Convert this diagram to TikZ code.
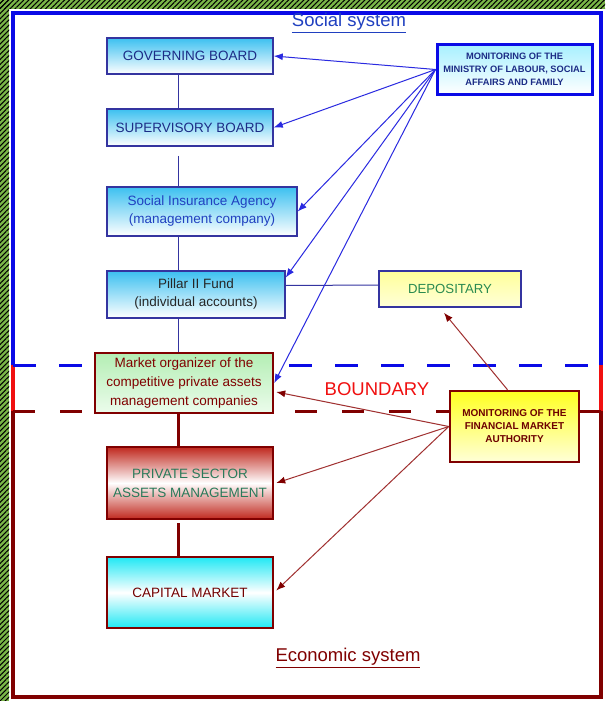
\documentclass[tikz,border=0pt]{standalone}
\usepackage{fontspec}
\setmainfont{Liberation Sans}
\usetikzlibrary{arrows.meta,calc,patterns.meta}
\definecolor{fblue}{HTML}{0A0AE6}
\definecolor{dred}{HTML}{800000}
\definecolor{bred}{HTML}{F01010}
\definecolor{navy}{HTML}{1C2C86}
\definecolor{midblue}{HTML}{2040C0}
\definecolor{boxblue}{HTML}{3434A0}
\definecolor{hgreen}{HTML}{7AB648}
\definecolor{skytop}{HTML}{3CC0F0}
\definecolor{cyantop}{HTML}{20E8F4}
\definecolor{redtop}{HTML}{C0281E}
\definecolor{greentop}{HTML}{B4EEB4}
\definecolor{greenbot}{HTML}{ECFCEC}
\definecolor{yelltop}{HTML}{FFFF20}
\definecolor{yellbot}{HTML}{FFFFD8}
\definecolor{paleyell}{HTML}{FFFF9A}
\definecolor{palecyan}{HTML}{A8F0FF}
\definecolor{tgreen}{HTML}{2A7A5A}
\definecolor{dgreen}{HTML}{2A8A50}
\definecolor{arrblue}{HTML}{2A2AE0}
\definecolor{arrred}{HTML}{A03030}
\tikzset{
  bluebox/.style={draw=boxblue, line width=1.5pt, inner sep=0pt, align=center,
    top color=skytop, bottom color=white, font=\fontsize{13.5}{18}\selectfont},
  redbox/.style={draw=dred, line width=2.5pt, inner sep=0pt, align=center,
    font=\fontsize{13.5}{19}\selectfont},
  smallbox/.style={inner sep=0pt, align=center, font=\bfseries\fontsize{9.3}{13}\selectfont},
  bline/.style={boxblue, line width=1pt},
  rline/.style={dred, line width=3pt},
  barrow/.style={arrblue, line width=1pt, -{Latex[length=9pt,width=7pt]}},
  rarrow/.style={arrred, line width=1pt, -{Latex[length=9pt,width=7pt,color=dred]}},
}
\begin{document}
\begin{tikzpicture}[x=1pt,y=-1pt]
\useasboundingbox (0,0) rectangle (605,701);
\fill[white] (0,0) rectangle (605,701);
% hatched border
\fill[hgreen] (0,0) rectangle (605,9);
\fill[hgreen] (0,0) rectangle (9,701);
\fill[pattern={Lines[angle=45,distance=3.6pt,line width=1.05pt]},pattern color=black] (0,0) rectangle (605,9);
\fill[pattern={Lines[angle=45,distance=3.6pt,line width=1.05pt]},pattern color=black] (0,0) rectangle (9,701);
% frames
\draw[fblue, line width=4pt] (13,365) -- (13,13) -- (601,13) -- (601,365);
\draw[bred, line width=4pt] (13,365) -- (13,411) (601,365) -- (601,411);
\draw[dred, line width=4pt] (13,411) -- (13,697) -- (601,697) -- (601,411);
\draw[fblue, line width=3pt, dash pattern=on 23pt off 23pt] (13,365) -- (601,365);
\draw[dred, line width=3pt, dash pattern=on 22pt off 25pt] (13,411) -- (601,411);

\node[text=midblue, font=\fontsize{18.5}{20}\selectfont] (soc) at (349,23) {\underline{Social system}};
\node[text=dred, font=\fontsize{18.5}{20}\selectfont] (eco) at (348,658) {\underline{Economic system}};
\node[text=bred, font=\fontsize{18.5}{20}\selectfont] (bnd) at (377,389) {BOUNDARY};

\coordinate (sp) at (178,0);

% left column
\node[bluebox, text=navy, minimum width=166pt, minimum height=36pt] (gb) at (190,56) {GOVERNING BOARD};
\node[bluebox, text=navy, minimum width=166pt, minimum height=37pt] (sb) at (190,127.5) {SUPERVISORY BOARD};
\node[bluebox, text=midblue, minimum width=190pt, minimum height=49pt] (sia) at (202,211.5) {Social Insurance Agency\\(management company)};
\node[bluebox, text=black!85, minimum width=178pt, minimum height=47pt] (pf) at (196,294.5) {Pillar II Fund\\(individual accounts)};
\node[redbox, text=dred, top color=greentop, bottom color=greenbot, minimum width=178pt, minimum height=60pt] (mo) at (184,383) {Market organizer of the\\competitive private assets\\management companies};
\node[redbox, text=tgreen, top color=redtop, bottom color=redtop, middle color=white, minimum width=166pt, minimum height=72pt] (ps) at (190,483) {PRIVATE SECTOR\\ASSETS MANAGEMENT};
\node[redbox, text=dred!90!black, top color=cyantop, bottom color=cyantop, middle color=white, minimum width=166pt, minimum height=71pt] (cm) at (190,592.5) {CAPITAL MARKET};

% right column
\node[draw=boxblue, line width=1.5pt, inner sep=0pt, top color=paleyell, bottom color=yellbot, text=dgreen, font=\fontsize{13.2}{16}\selectfont, minimum width=142pt, minimum height=36pt] (dep) at (450,289) {DEPOSITARY};
\node[smallbox, draw=fblue, line width=3pt, top color=palecyan, bottom color=white, text=navy, minimum width=155pt, minimum height=49pt] (ml) at (514.5,69.5) {MONITORING OF THE\\MINISTRY OF LABOUR, SOCIAL\\AFFAIRS AND FAMILY};
\node[smallbox, draw=dred, line width=2.5pt, top color=yelltop, bottom color=yellbot, text=dred!85!black, font=\bfseries\fontsize{10}{13}\selectfont, minimum width=129pt, minimum height=71pt] (fma) at (514.5,426.5) {MONITORING OF THE\\FINANCIAL MARKET\\AUTHORITY};

% spine connectors
\draw[bline] (gb.south -| sp) -- (sb.north -| sp);
\draw[bline] ($(sb.south -| sp)+(0,9)$) -- (sia.north -| sp);
\draw[bline] (sia.south -| sp) -- (pf.north -| sp);
\draw[bline] (pf.south -| sp) -- (mo.north -| sp);
\draw[rline] (mo.south -| sp) -- (ps.north -| sp);
\draw[rline] ($(ps.south -| sp)+(0,3)$) -- (cm.north -| sp);
\draw[boxblue, line width=1pt] ($(pf.east)+(0,-9)$) -- ($(dep.west)+(0,-4)$);
\draw[dred, line width=3pt] (fma.east |- 0,411) -- (601,411);

% ministry arrows
\draw[barrow] (ml.west) -- (gb.east);
\draw[barrow] (ml.west) -- (sb.east);
\draw[barrow] (ml.west) -- (sia.east);
\draw[barrow] (ml.west) -- ($(pf.east)+(0,-17)$);
\draw[barrow] (ml.west) -- (mo.east);

% financial market authority arrows
\draw[rarrow] ($(fma.north)+(-7,0)$) -- ($(dep.south)+(-6,5)$);
\draw[rarrow] (fma.west) -- ($(mo.east)+(2,9)$);
\draw[rarrow] (fma.west) -- ($(ps.east)+(2,0)$);
\draw[rarrow] (fma.west) -- ($(cm.east)+(2,-2)$);
\end{tikzpicture}
\end{document}
